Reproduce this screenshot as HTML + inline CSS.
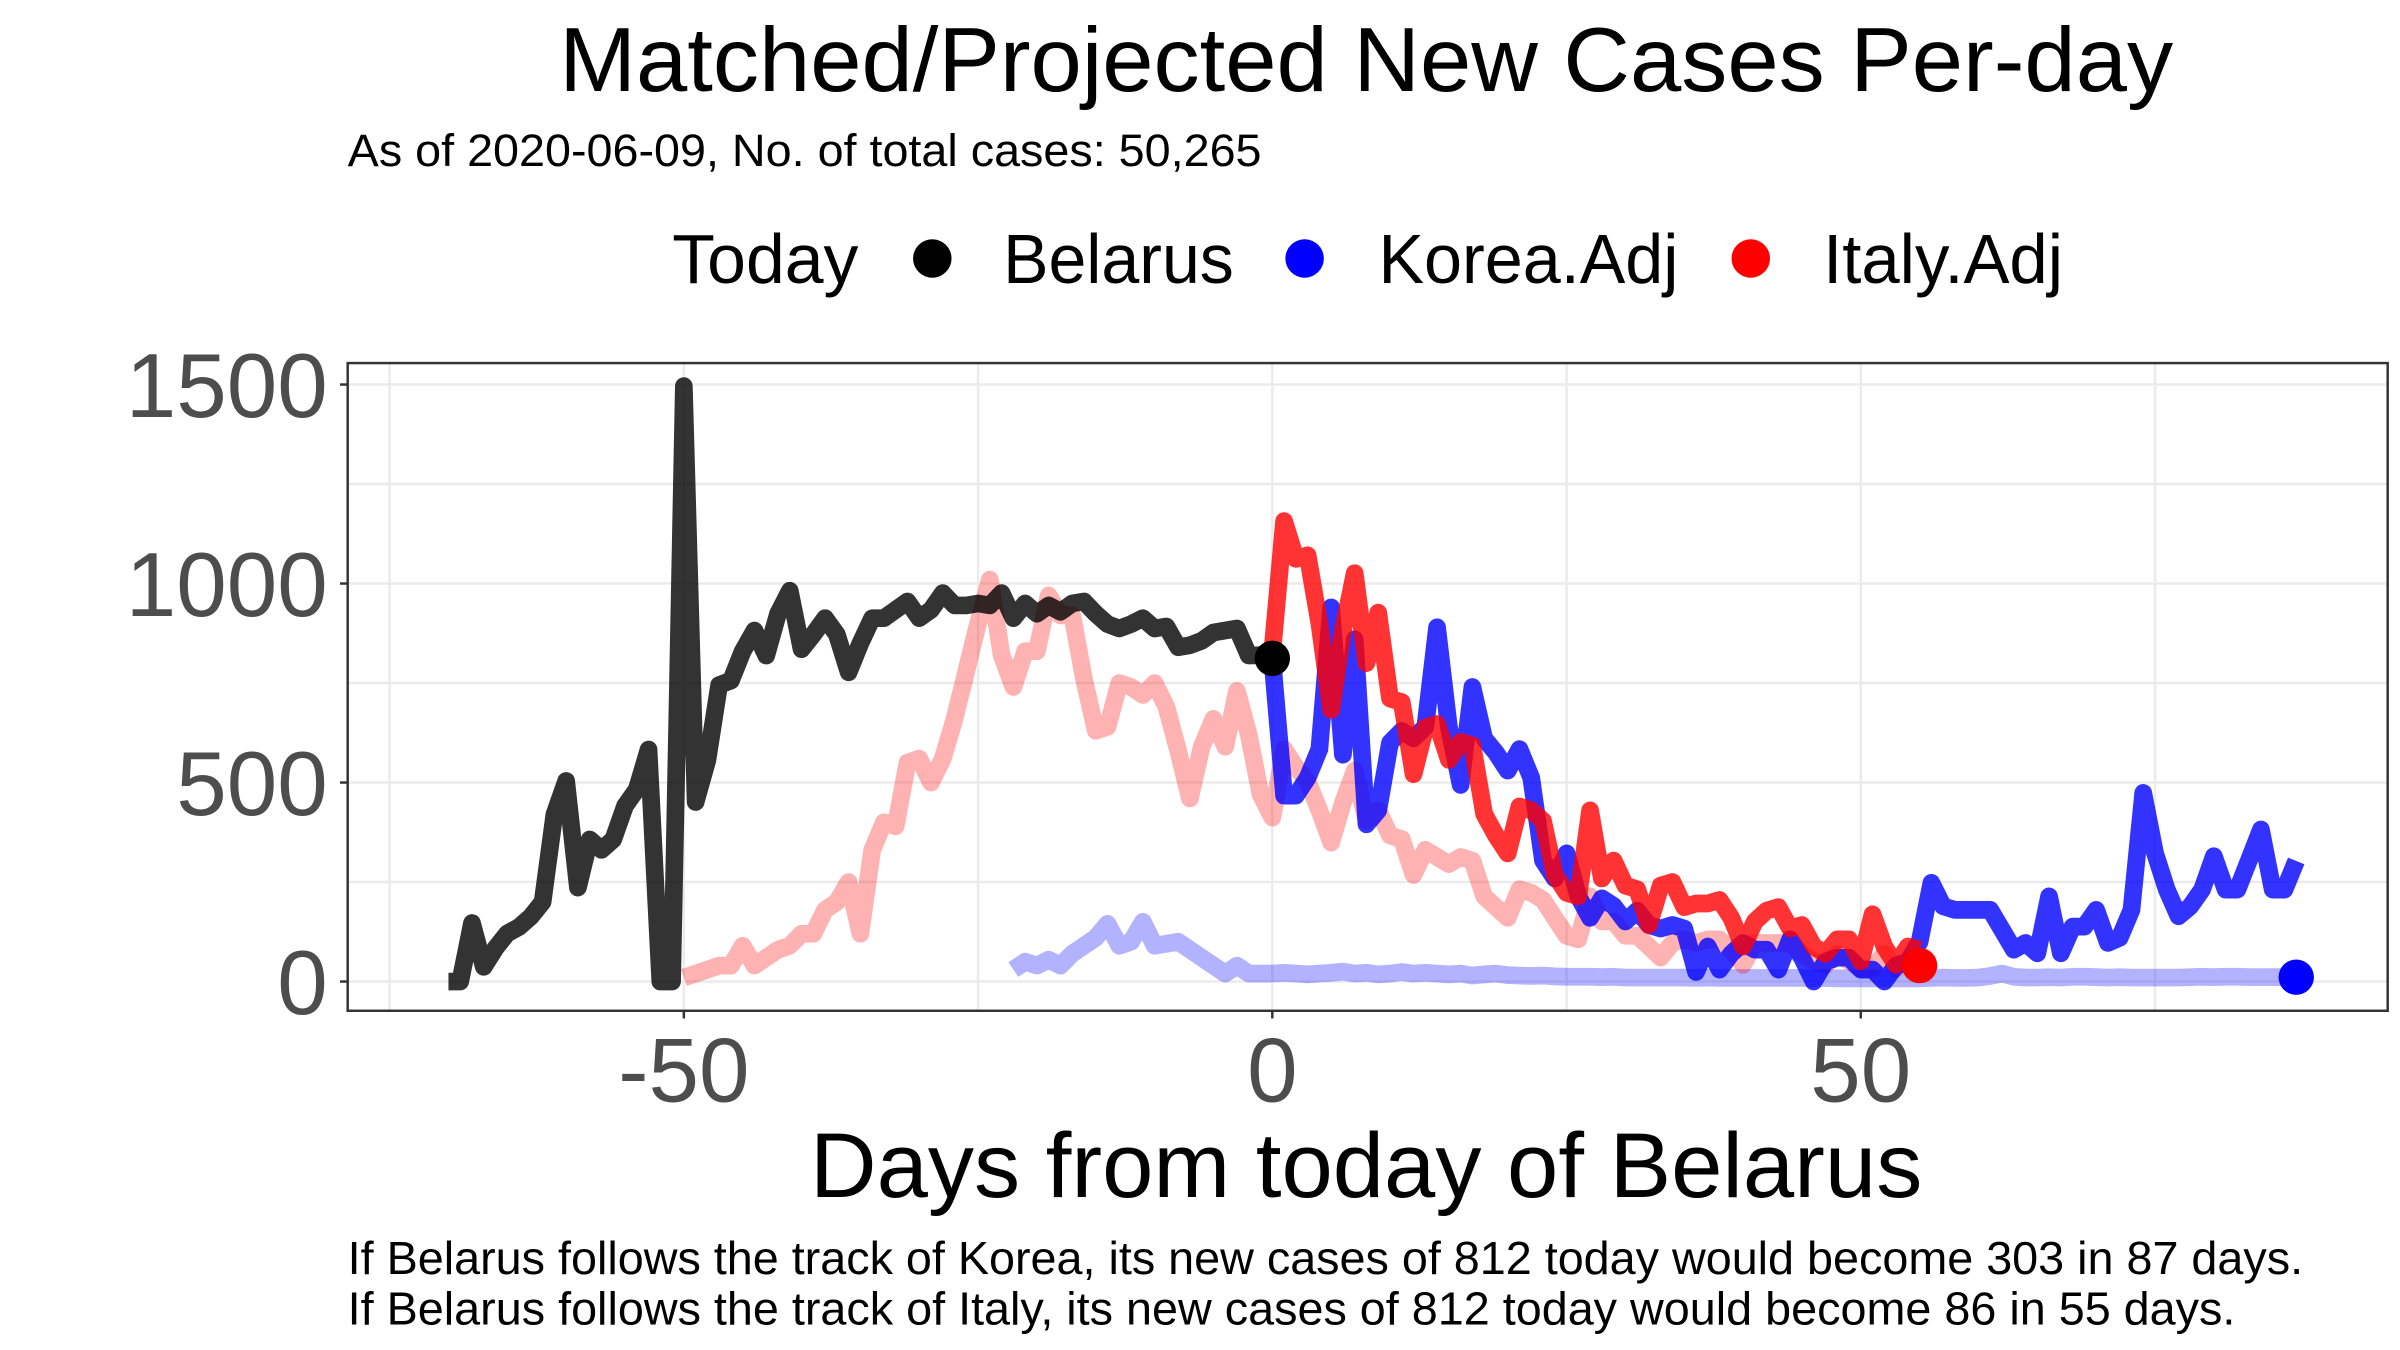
<!DOCTYPE html>
<html><head><meta charset="utf-8"><style>
html,body{margin:0;padding:0;background:#fff;}
svg{display:block;font-family:"Liberation Sans",Arial,sans-serif;}
</style></head><body>
<svg id="chart" width="2400" height="1350" viewBox="0 0 1560 877.5" preserveAspectRatio="none" xmlns="http://www.w3.org/2000/svg">
<rect width="1560" height="877.5" fill="#fff"/>
<text x="888" y="59" font-size="59" text-anchor="middle" fill="#000" textLength="1049" lengthAdjust="spacingAndGlyphs">Matched/Projected New Cases Per-day</text>
<text x="226" y="108" font-size="29.5" fill="#000" textLength="594" lengthAdjust="spacingAndGlyphs">As of 2020-06-09, No. of total cases: 50,265</text>
<g>
<text x="437" y="184" font-size="45" fill="#000" textLength="121" lengthAdjust="spacingAndGlyphs">Today</text>
<circle cx="606" cy="168" r="12.5" fill="#000"/>
<text x="652" y="184" font-size="45" fill="#000" textLength="150" lengthAdjust="spacingAndGlyphs">Belarus</text>
<circle cx="848" cy="168" r="12.5" fill="#0000ff"/>
<text x="896" y="184" font-size="45" fill="#000" textLength="195" lengthAdjust="spacingAndGlyphs">Korea.Adj</text>
<circle cx="1138" cy="168" r="12.5" fill="#ff0000"/>
<text x="1185" y="184" font-size="45" fill="#000" textLength="156" lengthAdjust="spacingAndGlyphs">Italy.Adj</text>
</g>
<g id="grid"></g>
<g id="marks"></g>
<rect x="226" y="236" width="1326" height="421" fill="none" stroke="#333" stroke-width="1.6"/>
<g id="axes"></g>
<text x="888" y="778" font-size="60" text-anchor="middle" fill="#000" textLength="723" lengthAdjust="spacingAndGlyphs">Days from today of Belarus</text>
<text x="226" y="828" font-size="30" fill="#000" textLength="1271" lengthAdjust="spacingAndGlyphs">If Belarus follows the track of Korea, its new cases of 812 today would become 303 in 87 days.</text>
<text x="226" y="861" font-size="30" fill="#000" textLength="1227" lengthAdjust="spacingAndGlyphs">If Belarus follows the track of Italy, its new cases of 812 today would become 86 in 55 days.</text>
</svg>
<script>
const xTicks = [-50, 0, 50];
const xGrid = [-75, -50, -25, 0, 25, 50, 75];
const yTicks = [0, 500, 1000, 1500];
const yGrid = [0, 250, 500, 750, 1000, 1250, 1500];
const belarusStart = -70;
const belarusValues = [0,0,147,37,84,121,137,163,200,420,504,236,357,331,357,441,483,583,0,0,1496,451,556,745,756,830,882,819,924,982,835,872,913,872,777,850,913,913,934,955,913,934,976,945,945,950,945,976,913,950,924,945,929,950,955,924,898,887,898,913,887,892,840,845,856,877,882,887,819,820,812];
const italyHistStart = -50;
const italyHistValues = [10,20,30,40,40,90,40,60,80,90,120,120,180,200,250,120,330,400,390,550,560,500,560,660,780,900,1010,820,740,830,830,970,920,920,760,630,640,750,740,720,750,690,580,460,590,660,590,730,620,470,412,584,539,503,430,349,449,530,404,430,367,358,268,331,313,295,313,304,214,187,160,232,223,205,160,115,106,214,151,151,115,115,88,60,97,106,97,106,106,79,42,97,97,97,97,70,51,42,70,51,33,33,70,33,51,33];
const koreaHistStart = -22;
const koreaHistValues = [30,50,40,55,40,70,90,110,145,90,100,150,90,95,100,80,60,40,20,40,20,20,20,22,20,18,20,22,25,20,22,18,20,24,20,22,20,18,20,15,18,20,16,15,14,15,13,12,12,12,11,12,10,10,10,10,10,10,9,10,9,9,9,9,9,9,9,9,8,9,8,8,8,8,8,8,8,8,9,10,9,9,10,14,20,12,10,10,11,10,12,12,11,10,11,10,10,10,10,10,11,12,11,12,12,11,11,11,11,11,11];
const koreaAdjStart = 0;
const koreaAdjValues = [810,467,467,512,584,940,570,860,395,430,600,630,611,640,890,640,494,740,611,575,530,584,512,304,259,322,214,160,209,190,151,178,142,133,142,133,24,88,30,70,97,80,80,30,106,60,0,50,60,60,30,30,0,40,50,100,248,189,180,180,180,180,130,80,97,71,214,71,138,138,180,97,110,180,474,323,231,164,189,231,315,231,231,306,382,231,231,303];
const italyAdjStart = 0;
const italyAdjValues = [828,1157,1062,1071,900,683,882,1026,800,927,711,702,521,638,647,557,602,593,421,367,322,440,430,404,268,223,214,430,259,304,241,232,142,241,250,187,196,196,205,160,88,151,178,187,133,142,88,70,106,106,51,169,88,42,88,79];
const todayDay = [0];
const todayValue = [812];
const koreaEndDay = [87];
const koreaEndValue = [11];
const italyEndDay = [55];
const italyEndValue = [40];

const NS = "http://www.w3.org/2000/svg";
const PX0 = 226, PX1 = 1552, PY0 = 236, PY1 = 657;
function xs(d){ return 827 + d * 7.65; }
function ys(v){ return 638 - v * 0.2587; }
function mk(tag, attrs, parent){ const e = document.createElementNS(NS, tag); for (const k in attrs) e.setAttribute(k, attrs[k]); parent.appendChild(e); return e; }

const grid = document.getElementById('grid');
const axes = document.getElementById('axes');
const marks = document.getElementById('marks');
mk('rect', {x:PX0, y:PY0, width:PX1-PX0, height:PY1-PY0, fill:'#fff'}, grid);
xGrid.forEach(d => {
  const l = mk('line', {x1:xs(d), x2:xs(d), y1:PY0, y2:PY1, stroke:'#ebebeb', 'stroke-width':1.6}, grid);
  
  
});
yGrid.forEach(v => {
  const l = mk('line', {x1:PX0, x2:PX1, y1:ys(v), y2:ys(v), stroke:'#ebebeb', 'stroke-width':1.6}, grid);
  
  
});
xTicks.forEach(d => {
  const t = mk('line', {x1:xs(d), x2:xs(d), y1:PY1, y2:PY1+5, stroke:'#333', 'stroke-width':1.6}, axes);
  
  
  const tx = mk('text', {x:xs(d), y:716, 'font-size':59, 'text-anchor':'middle', fill:'#4d4d4d'}, axes);
  tx.textContent = String(d);
  
  
});
yTicks.forEach(v => {
  const t = mk('line', {x1:PX0-5, x2:PX0, y1:ys(v), y2:ys(v), stroke:'#333', 'stroke-width':1.6}, axes);
  
  
  const tx = mk('text', {x:213, y:ys(v)+21, 'font-size':59, 'text-anchor':'end', fill:'#4d4d4d'}, axes);
  tx.textContent = String(v);
  
  
});

function drawSeries(start, vals, color, name){
  let d = '';
  vals.forEach((v, i) => {
    if (v === null) return;
    d += (d === '' || vals[i-1] === null ? 'M' : 'L') + xs(start + i).toFixed(2) + ',' + ys(v).toFixed(2);
  });
  const p = mk('path', {d:d, fill:'none', stroke:color, 'stroke-width':11.5, 'stroke-linejoin':'round', 'stroke-linecap':'butt'}, marks);
  
  
}
drawSeries(koreaHistStart, koreaHistValues, 'rgba(0,0,255,0.3)', 'korea-history-line');
drawSeries(italyHistStart, italyHistValues, 'rgba(255,0,0,0.3)', 'italy-history-line');
drawSeries(belarusStart, belarusValues, 'rgba(0,0,0,0.8)', 'belarus-line');
drawSeries(koreaAdjStart, koreaAdjValues, 'rgba(0,0,255,0.8)', 'korea-adj-line');
drawSeries(italyAdjStart, italyAdjValues, 'rgba(255,0,0,0.8)', 'italy-adj-line');

function dot(days, vals, color, name){
  days.forEach((d, i) => {
    const c = mk('circle', {cx:xs(d), cy:ys(vals[i]), r:11.5, fill:color}, marks);
    
    
  });
}
dot(todayDay, todayValue, '#000', 'today-point-belarus');
dot(koreaEndDay, koreaEndValue, '#0000ff', 'end-point-korea');
dot(italyEndDay, italyEndValue, '#ff0000', 'end-point-italy');
</script>
</body></html>
